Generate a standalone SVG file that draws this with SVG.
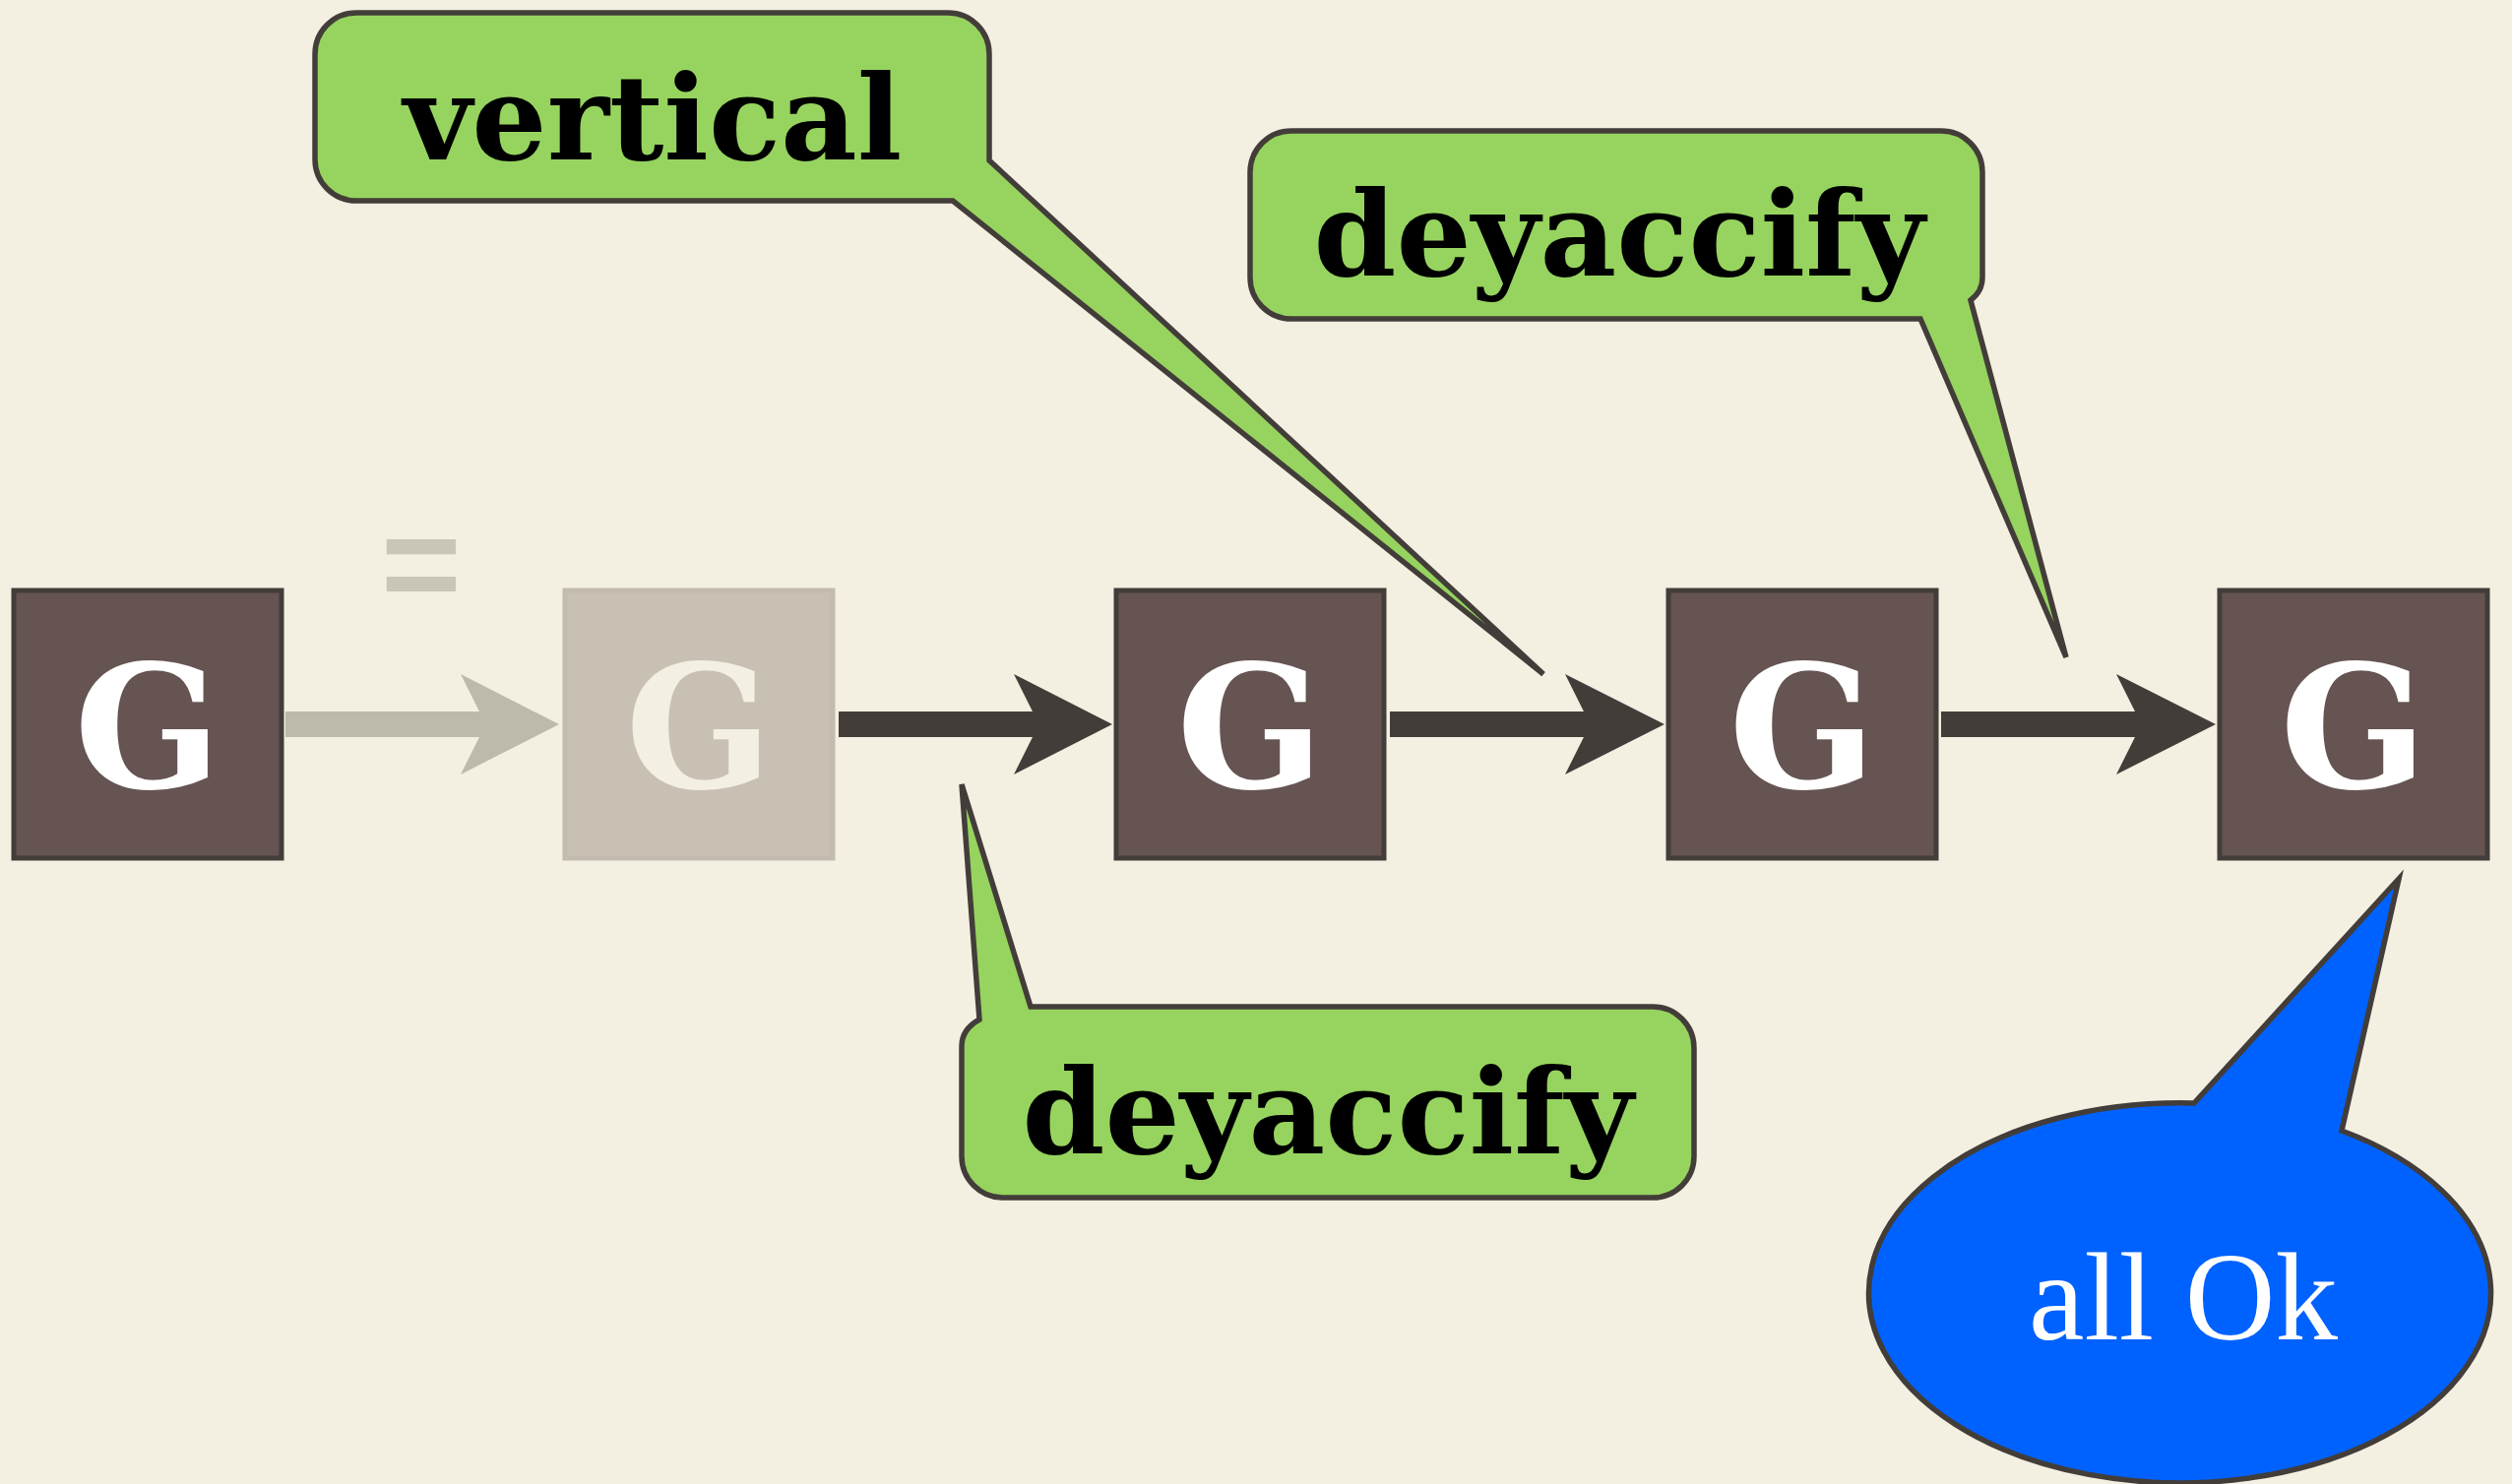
<svg xmlns="http://www.w3.org/2000/svg" width="2552" height="1508" viewBox="0 0 2552 1508">
<defs>
<style>
.box{fill:#655452;stroke:#433d3a;stroke-width:5}
.ghost{fill:#c9c0b4;stroke:#c3bbaf;stroke-width:5}
.g{font-family:"DejaVu Serif","Liberation Serif",serif;font-weight:bold;font-size:175px;text-anchor:middle;fill:#ffffff}
.callout{fill:#97d45f;stroke:#433d3a;stroke-width:5.5;stroke-linejoin:miter}
.ct{font-family:"DejaVu Serif","Liberation Serif",serif;font-weight:bold;font-size:120px;text-anchor:middle;fill:#000000}
.arrow{fill:#433d3a}
.arrowg{fill:#bdb9ab}
</style>
</defs>
<rect x="0" y="0" width="2552" height="1508" fill="#f3efe1"/>
<g id="connectors">
<path class="arrowg" d="M290,723 H487 L468,685 L568,736 L468,787 L487,749 H290 Z"/>
<path class="arrow" d="M852,723 H1049 L1030,685 L1130,736 L1030,787 L1049,749 H852 Z"/>
<path class="arrow" d="M1412,723 H1609 L1590,685 L1691,736 L1590,787 L1609,749 H1412 Z"/>
<path class="arrow" d="M1972,723 H2169 L2150,685 L2251,736 L2150,787 L2169,749 H1972 Z"/>
<text x="428" y="621" font-family="'Liberation Sans', Arial, sans-serif" font-weight="bold" font-size="140" text-anchor="middle" fill="#c9c6b8">=</text>
</g>
<g id="node1"><rect class="box" x="14" y="600" width="272" height="272"/><text class="g" x="150" y="801">G</text></g>
<g id="node2"><rect class="ghost" x="574" y="600" width="272" height="272"/><text class="g" x="710" y="801" style="fill:#f3efe3">G</text></g>
<g id="node3"><rect class="box" x="1134" y="600" width="272" height="272"/><text class="g" x="1270" y="801">G</text></g>
<g id="node4"><rect class="box" x="1695" y="600" width="272" height="272"/><text class="g" x="1831" y="801">G</text></g>
<g id="node5"><rect class="box" x="2255" y="600" width="272" height="272"/><text class="g" x="2391" y="801">G</text></g>
<g id="callout-vertical">
<path class="callout" d="M362,13 H963 A42,42 0 0 1 1005,55 V163 L1568,685 L968,204 H362 A42,42 0 0 1 320,162 V55 A42,42 0 0 1 362,13 Z"/>
<text class="ct" x="663" y="162">vertical</text>
</g>
<g id="callout-deyaccify-top">
<path class="callout" d="M1312,133 H1972 A42,42 0 0 1 2014,175 V282 Q2014,296 2002,305 L2099,668 L1951,324 H1312 A42,42 0 0 1 1270,282 V175 A42,42 0 0 1 1312,133 Z"/>
<text class="ct" x="1645" y="280">deyaccify</text>
</g>
<g id="callout-deyaccify-bottom">
<path class="callout" d="M1047,1023 H1679 A42,42 0 0 1 1721,1065 V1175 A42,42 0 0 1 1679,1217 H1019 A42,42 0 0 1 977,1175 V1063 Q977,1046 995,1036 L977,797 Z"/>
<text class="ct" x="1349" y="1172">deyaccify</text>
</g>
<g id="callout-allok">
<path d="M2229,1121 L2437,893 L2379,1149 A316,193 0 1 1 2229,1121 Z" fill="#0062fe" stroke="#433d3a" stroke-width="5.5"/>
<text x="2218" y="1361" font-family="'Liberation Serif', 'Times New Roman', serif" font-size="127" text-anchor="middle" fill="#ffffff">all Ok</text>
</g>
</svg>
